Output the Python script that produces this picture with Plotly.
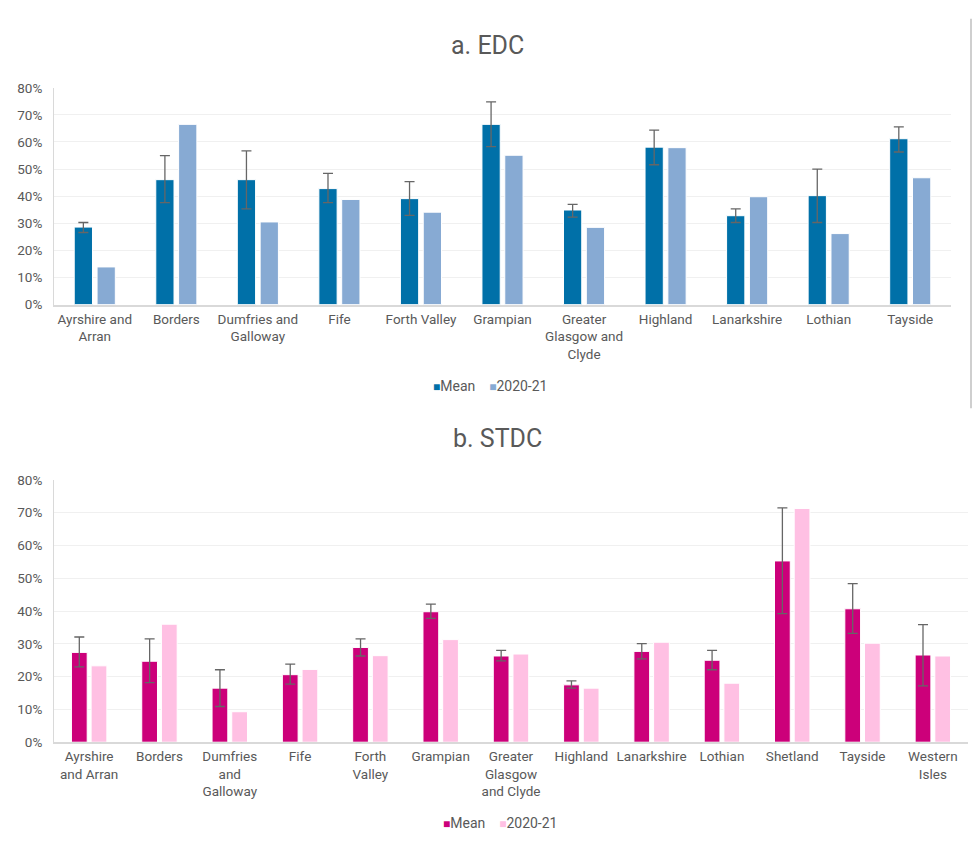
import plotly.graph_objects as go

# ---- a. EDC ----
edc_boards = ["Ayrshire and Arran", "Borders", "Dumfries and Galloway", "Fife",
              "Forth Valley", "Grampian", "Greater Glasgow and Clyde", "Highland",
              "Lanarkshire", "Lothian", "Tayside"]
edc_labels = ["Ayrshire and<br>Arran", "Borders", "Dumfries and<br>Galloway", "Fife",
              "Forth Valley", "Grampian", "Greater<br>Glasgow and<br>Clyde", "Highland",
              "Lanarkshire", "Lothian", "Tayside"]
edc_mean = [28.6, 46.1, 46.1, 42.8, 39.1, 66.5, 34.9, 58.1, 32.8, 40.2, 61.2]
edc_err_up = [1.7, 8.9, 10.6, 5.6, 6.3, 8.3, 2.1, 6.3, 2.5, 9.8, 4.4]
edc_err_down = [2.0, 8.5, 10.8, 5.2, 6.2, 8.2, 2.6, 6.5, 2.5, 9.9, 4.9]
edc_2021 = [13.9, 66.5, 30.5, 38.8, 34.1, 55.1, 28.5, 57.9, 39.8, 26.2, 46.8]

# ---- b. STDC ----
stdc_boards = ["Ayrshire and Arran", "Borders", "Dumfries and Galloway", "Fife",
               "Forth Valley", "Grampian", "Greater Glasgow and Clyde", "Highland",
               "Lanarkshire", "Lothian", "Shetland", "Tayside", "Western Isles"]
stdc_labels = ["Ayrshire<br>and Arran", "Borders", "Dumfries<br>and<br>Galloway", "Fife",
               "Forth<br>Valley", "Grampian", "Greater<br>Glasgow<br>and Clyde", "Highland",
               "Lanarkshire", "Lothian", "Shetland", "Tayside", "Western<br>Isles"]
stdc_mean = [27.4, 24.7, 16.5, 20.6, 28.9, 39.8, 26.3, 17.5, 27.7, 25.0, 55.3, 40.7, 26.6]
stdc_err_up = [4.7, 6.8, 5.6, 3.2, 2.6, 2.3, 1.7, 1.2, 2.4, 3.0, 16.2, 7.7, 9.3]
stdc_err_down = [4.4, 6.5, 5.6, 2.9, 2.6, 2.0, 1.5, 1.0, 2.3, 2.9, 16.1, 7.5, 9.4]
stdc_2021 = [23.3, 36.0, 9.3, 22.2, 26.4, 31.3, 26.9, 16.5, 30.5, 18.0, 71.3, 30.2, 26.3]

y_ticks = [0, 10, 20, 30, 40, 50, 60, 70, 80]
y_tick_text = [f"{v}%" for v in y_ticks]
series_names = ["Mean", "2020-21"]

EDC_DARK = "#0070A8"
EDC_LIGHT = "#87AAD3"
STDC_DARK = "#CC007A"
STDC_LIGHT = "#FFC0E3"
TEXT = "#595959"
ERR = "#666666"
FONT = "Roboto"

W, H = 975, 850


def px_x(p):
    return p / W


def px_y(p):
    return 1 - p / H


fig = go.Figure()

err_style = dict(type="data", color=ERR, thickness=1.3, width=5, symmetric=False)
bar_line = dict(color="white", width=1)

fig.add_trace(go.Bar(
    x=edc_boards, y=edc_mean, name=series_names[0], marker=dict(color=EDC_DARK, line=bar_line),
    error_y=dict(array=edc_err_up, arrayminus=edc_err_down, **err_style),
    xaxis="x", yaxis="y", showlegend=False))
fig.add_trace(go.Bar(
    x=edc_boards, y=edc_2021, name=series_names[1], marker=dict(color=EDC_LIGHT, line=bar_line),
    xaxis="x", yaxis="y", showlegend=False))

fig.add_trace(go.Bar(
    x=stdc_boards, y=stdc_mean, name=series_names[0], marker=dict(color=STDC_DARK, line=bar_line),
    error_y=dict(array=stdc_err_up, arrayminus=stdc_err_down, **err_style),
    xaxis="x2", yaxis="y2", showlegend=False))
fig.add_trace(go.Bar(
    x=stdc_boards, y=stdc_2021, name=series_names[1], marker=dict(color=STDC_LIGHT, line=bar_line),
    xaxis="x2", yaxis="y2", showlegend=False))

axis_font = dict(family=FONT, size=13.5, color=TEXT)

xcommon = dict(type="category", showgrid=False, showline=True, linecolor="#D9D9D9",
               linewidth=1.5, ticks="", tickfont=axis_font, ticklabelstandoff=1,
               fixedrange=True)
ycommon = dict(range=[0, 80], tickmode="array", tickvals=y_ticks, ticktext=y_tick_text,
               showgrid=True, gridcolor="#F0F0F0", gridwidth=1, showline=True,
               linecolor="#D9D9D9", linewidth=1, ticks="", tickfont=axis_font,
               ticklabelstandoff=8, zeroline=False, fixedrange=True)


def legend_text(dark, light):
    # compact key: small coloured square glued to each series name
    return (f"<span style='color:{dark};font-size:12px'>■</span>{series_names[0]}"
            f"    <span style='color:{light};font-size:12px'>■</span>{series_names[1]}")


fig.update_layout(
    width=W, height=H,
    margin=dict(l=0, r=0, t=0, b=0),
    paper_bgcolor="white", plot_bgcolor="white",
    font=dict(family=FONT, color=TEXT),
    barmode="group", bargap=0.44, bargroupgap=0.2,
    xaxis=dict(domain=[px_x(54), px_x(951)], anchor="y",
               tickvals=edc_boards, ticktext=edc_labels, **xcommon),
    yaxis=dict(domain=[px_y(302.3), px_y(81.3)], anchor="x", **ycommon),
    xaxis2=dict(domain=[px_x(54), px_x(968)], anchor="y2",
                tickvals=stdc_boards, ticktext=stdc_labels, **xcommon),
    yaxis2=dict(domain=[px_y(748.3), px_y(481)], anchor="x2", **ycommon),
    annotations=[
        dict(text="a. EDC", x=px_x(487), y=px_y(38), xref="paper", yref="paper",
             showarrow=False, xanchor="center", yanchor="middle",
             font=dict(family=FONT, size=25, color=TEXT)),
        dict(text="b. STDC", x=px_x(497), y=px_y(439), xref="paper", yref="paper",
             showarrow=False, xanchor="center", yanchor="middle",
             font=dict(family=FONT, size=25, color=TEXT)),
        dict(text=legend_text(EDC_DARK, EDC_LIGHT), x=px_x(490), y=px_y(385),
             xref="paper", yref="paper", showarrow=False, xanchor="center",
             yanchor="middle", font=dict(family=FONT, size=14, color=TEXT)),
        dict(text=legend_text(STDC_DARK, STDC_LIGHT), x=px_x(500), y=px_y(831),
             xref="paper", yref="paper", showarrow=False, xanchor="center",
             yanchor="middle", font=dict(family=FONT, size=14, color=TEXT)),
    ],
    shapes=[
        dict(type="line", xref="paper", yref="paper", x0=px_x(971), x1=px_x(971),
             y0=px_y(11), y1=px_y(408), line=dict(color="#BFBFBF", width=1.5)),
    ],
)

fig.write_html("out.html")
